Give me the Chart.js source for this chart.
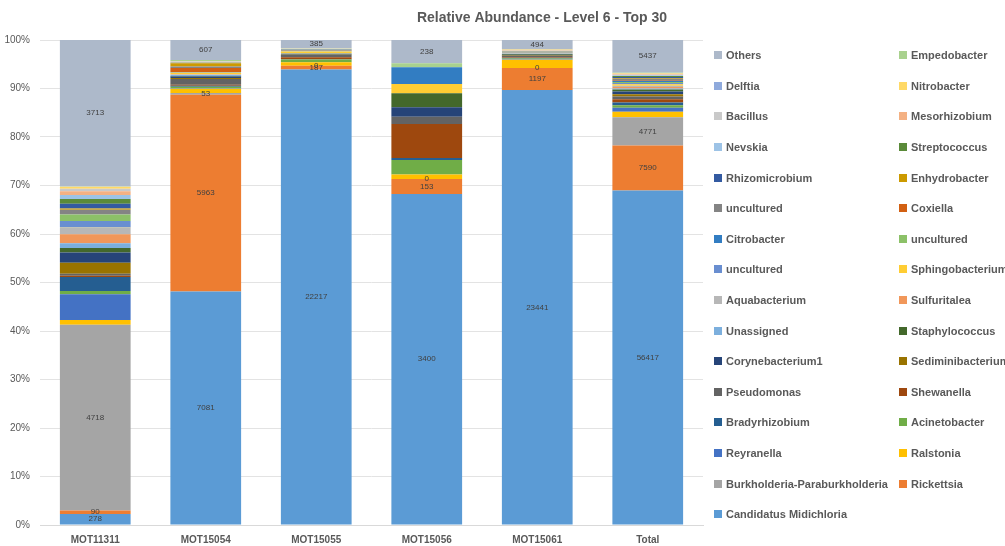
<!DOCTYPE html>
<html>
<head>
<meta charset="utf-8">
<title>Relative Abundance - Level 6 - Top 30</title>
<script src="https://cdn.jsdelivr.net/npm/chart.js@4.4.1/dist/chart.umd.min.js"></script>
<style>
  body { margin: 0; background: #fff; }
  #wrap { position: relative; width: 1005px; height: 546px; overflow: hidden; }
  #legend {
    position: absolute; left: 714px; top: 40px;
    display: grid; grid-template-columns: 185px 110px; grid-auto-rows: 30.6px;
    font: bold 11px "Liberation Sans", Arial, sans-serif; color: #595959;
  }
  #legend .item { display: flex; align-items: center; white-space: nowrap; }
  #legend .sw { width: 8px; height: 8px; margin-right: 4px; flex: none; }
</style>
</head>
<body>
<div id="wrap">
  <canvas id="chart" width="1005" height="546"></canvas>
  <div id="legend"></div>
</div>
<script>
const TITLE = "Relative Abundance - Level 6 - Top 30";
const CATEGORIES = ["MOT11311", "MOT15054", "MOT15055", "MOT15056", "MOT15061", "Total"];

// read counts per sample (bottom of stack first)
const MIDICHLORIA   = [278, 7081, 22217, 3400, 23441, 56417];
const RICKETTSIA    = [90, 5963, 187, 153, 1197, 7590];
const BURKHOLDERIA  = [4718, 53, 0, 0, 0, 4771];
const RALSTONIA     = [120, 130, 165, 45, 445, 905];
const REYRANELLA    = [650, 15, 0, 0, 20, 685];
const ACINETOBACTER = [85, 45, 130, 150, 40, 450];
const BRADYRHIZOBIUM = [355, 30, 20, 20, 30, 455];
const SHEWANELLA    = [30, 30, 95, 350, 30, 535];
const PSEUDOMONAS   = [55, 175, 105, 75, 70, 480];
const SEDIMINIBACTERIUM = [280, 30, 20, 0, 40, 370];
const CORYNEBACTERIUM1 = [255, 45, 20, 96, 30, 445];
const STAPHYLOCOCCUS = [120, 15, 30, 144, 50, 360];
const UNASSIGNED    = [120, 30, 10, 0, 20, 180];
const SULFURITALEA  = [225, 8, 10, 0, 10, 255];
const AQUABACTERIUM = [165, 15, 10, 0, 10, 200];
const SPHINGOBACTERIUM = [5, 45, 80, 96, 10, 235];
const UNCULTURED_A  = [170, 8, 10, 0, 10, 200];
const UNCULTURED_B  = [165, 8, 10, 0, 10, 195];
const CITROBACTER   = [5, 8, 10, 172, 10, 205];
const COXIELLA      = [5, 115, 10, 0, 10, 140];
const UNCULTURED_C  = [105, 45, 15, 0, 15, 180];
const ENHYDROBACTER = [35, 100, 15, 0, 10, 160];
const RHIZOMICROBIUM = [120, 8, 10, 0, 10, 150];
const STREPTOCOCCUS = [120, 8, 10, 0, 10, 150];
const NEVSKIA       = [105, 8, 10, 0, 20, 145];
const MESORHIZOBIUM = [95, 15, 10, 0, 10, 130];
const BACILLUS      = [60, 15, 15, 0, 30, 120];
const NITROBACTER   = [55, 8, 20, 0, 40, 125];
const DELFTIA       = [5, 8, 10, 0, 10, 35];
const EMPEDOBACTER  = [5, 30, 15, 41, 10, 100];
const OTHERS        = [3713, 607, 385, 238, 494, 5437];

const SERIES = [
  ["Candidatus Midichloria", MIDICHLORIA],
  ["Rickettsia", RICKETTSIA],
  ["Burkholderia-Paraburkholderia", BURKHOLDERIA],
  ["Ralstonia", RALSTONIA],
  ["Reyranella", REYRANELLA],
  ["Acinetobacter", ACINETOBACTER],
  ["Bradyrhizobium", BRADYRHIZOBIUM],
  ["Shewanella", SHEWANELLA],
  ["Pseudomonas", PSEUDOMONAS],
  ["Sediminibacterium", SEDIMINIBACTERIUM],
  ["Corynebacterium1", CORYNEBACTERIUM1],
  ["Staphylococcus", STAPHYLOCOCCUS],
  ["Unassigned", UNASSIGNED],
  ["Sulfuritalea", SULFURITALEA],
  ["Aquabacterium", AQUABACTERIUM],
  ["Sphingobacterium", SPHINGOBACTERIUM],
  ["uncultured", UNCULTURED_A],
  ["uncultured", UNCULTURED_B],
  ["Citrobacter", CITROBACTER],
  ["Coxiella", COXIELLA],
  ["uncultured", UNCULTURED_C],
  ["Enhydrobacter", ENHYDROBACTER],
  ["Rhizomicrobium", RHIZOMICROBIUM],
  ["Streptococcus", STREPTOCOCCUS],
  ["Nevskia", NEVSKIA],
  ["Mesorhizobium", MESORHIZOBIUM],
  ["Bacillus", BACILLUS],
  ["Nitrobacter", NITROBACTER],
  ["Delftia", DELFTIA],
  ["Empedobacter", EMPEDOBACTER],
  ["Others", OTHERS],
];

// office palette, same order as SERIES
const COLORS = [
  "#5B9BD5", "#ED7D31", "#A5A5A5", "#FFC000", "#4472C4", "#70AD47",
  "#255E91", "#9E480E", "#636363", "#997300", "#264478", "#43682B",
  "#7CAFDD", "#F1975A", "#B7B7B7", "#FFCD33", "#698ED0", "#8CC168",
  "#327DC2", "#D26012", "#848484", "#CC9A00", "#335AA1", "#5A8A39",
  "#9DC3E6", "#F4B183", "#C9C9C9", "#FFD966", "#8FAADC", "#A9D18E",
  "#ADB9CA"
];

// only these series carry count labels
const LABELLED = new Set([0, 1, 2, 30]);

const totals = CATEGORIES.map((_, c) => SERIES.reduce((s, [, v]) => s + v[c], 0));

const datasets = SERIES.map(([name, vals], i) => ({
  label: name,
  data: vals.map((v, c) => v / totals[c] * 100),
  counts: vals,
  backgroundColor: COLORS[i],
  borderWidth: 0,
  categoryPercentage: 1,
  barPercentage: 0.64
}));

const titlePlugin = {
  id: "excelTitle",
  afterDraw(chart) {
    const ctx = chart.ctx;
    ctx.save();
    ctx.font = "bold 14px 'Liberation Sans', Arial, sans-serif";
    ctx.fillStyle = "#595959";
    ctx.textAlign = "center";
    ctx.textBaseline = "middle";
    ctx.fillText(TITLE, 542, 18);
    ctx.restore();
  }
};

const countLabels = {
  id: "countLabels",
  afterDatasetsDraw(chart) {
    const ctx = chart.ctx;
    ctx.save();
    ctx.font = "8px 'Liberation Sans', Arial, sans-serif";
    ctx.fillStyle = "#404040";
    ctx.textAlign = "center";
    ctx.textBaseline = "middle";
    chart.data.datasets.forEach((ds, i) => {
      if (!LABELLED.has(i)) return;
      chart.getDatasetMeta(i).data.forEach((bar, c) => {
        ctx.fillText(String(ds.counts[c]), bar.x, (bar.y + bar.base) / 2);
      });
    });
    ctx.restore();
  }
};

new Chart(document.getElementById("chart"), {
  type: "bar",
  data: { labels: CATEGORIES, datasets },
  plugins: [titlePlugin, countLabels],
  options: {
    responsive: false,
    animation: false,
    layout: { padding: { top: 40, right: 302, left: 0, bottom: 0 } },
    plugins: {
      legend: { display: false },
      title: { display: false },
      tooltip: { enabled: false }
    },
    scales: {
      x: {
        stacked: true,
        grid: { display: false, drawTicks: false },
        border: { color: "#D9D9D9" },
        ticks: {
          color: "#595959",
          font: { family: "'Liberation Sans', Arial, sans-serif", size: 10, weight: "bold" },
          padding: 9
        },
        afterFit(scale) { scale.height = 21; }
      },
      y: {
        stacked: true,
        min: 0,
        max: 100,
        grid: { color: "#E3E3E3", drawTicks: false },
        border: { display: false },
        ticks: {
          stepSize: 10,
          color: "#595959",
          font: { family: "'Liberation Sans', Arial, sans-serif", size: 10 },
          padding: 10,
          callback: (v) => v + "%"
        },
        afterFit(scale) { scale.width = 40; }
      }
    }
  }
});

// legend: two columns, filled row by row, top of stack first
const legendEl = document.getElementById("legend");
for (let i = SERIES.length - 1; i >= 0; i--) {
  const item = document.createElement("div");
  item.className = "item";
  const sw = document.createElement("span");
  sw.className = "sw";
  sw.style.background = COLORS[i];
  item.appendChild(sw);
  item.appendChild(document.createTextNode(SERIES[i][0]));
  legendEl.appendChild(item);
}
</script>
</body>
</html>
